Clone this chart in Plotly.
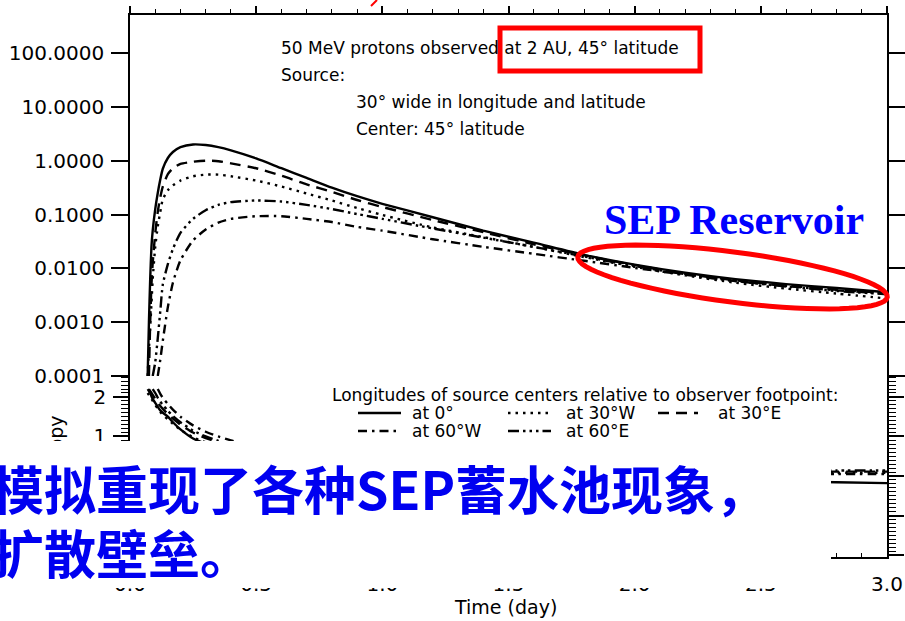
import math
import plotly.graph_objects as go

# ---------------- data ----------------
time_day = [0.070, 0.075, 0.080, 0.085, 0.090, 0.100, 0.110, 0.120, 0.130, 0.150,
            0.170, 0.200, 0.250, 0.300, 0.350, 0.400, 0.500, 0.600, 0.700, 0.800,
            0.900, 1.000, 1.200, 1.400, 1.600, 1.800, 2.000, 2.200, 2.400, 2.600,
            2.800, 3.000]

flux_0 = [1.0e-4, 1.0e-3, 6.3e-3, 2.5e-2, 5.0e-2, 0.126, 0.251, 0.447, 0.708, 1.12,
          1.45, 1.78, 2.0, 1.95, 1.78, 1.55, 1.10, 0.724, 0.479, 0.316,
          0.219, 0.158, 8.9e-2, 5.0e-2, 3.0e-2, 1.78e-2, 1.17e-2, 8.3e-3, 6.3e-3, 5.1e-3,
          4.3e-3, 3.6e-3]
flux_30W = [1.0e-4, 3.2e-4, 7.9e-4, 2.2e-3, 6.3e-3, 2.5e-2, 6.0e-2, 0.112, 0.191, 0.282,
            0.347, 0.427, 0.513, 0.550, 0.550, 0.513, 0.427, 0.331, 0.245, 0.182,
            0.132, 9.8e-2, 5.75e-2, 3.8e-2, 2.5e-2, 1.62e-2, 1.07e-2, 7.4e-3, 5.4e-3, 4.2e-3,
            3.4e-3, 2.75e-3]
flux_30E = [None, 1.0e-4, 1.0e-3, 5.0e-3, 1.26e-2, 4.47e-2, 0.112, 0.209, 0.331, 0.562,
            0.724, 0.871, 0.955, 1.0, 0.977, 0.891, 0.724, 0.525, 0.363, 0.263,
            0.186, 0.138, 7.9e-2, 4.7e-2, 2.8e-2, 1.74e-2, 1.15e-2, 7.9e-3, 6.0e-3, 4.8e-3,
            4.0e-3, 3.5e-3]
flux_60W = [None, None, None, None, None, None, 1.0e-4, 2.0e-4, 4.5e-4, 1.9e-3,
            5.4e-3, 1.41e-2, 3.31e-2, 5.25e-2, 7.08e-2, 8.3e-2, 9.3e-2, 9.3e-2, 8.3e-2, 7.24e-2,
            5.89e-2, 5.01e-2, 3.47e-2, 2.51e-2, 1.86e-2, 1.38e-2, 1.02e-2, 7.6e-3, 5.8e-3, 4.7e-3,
            3.9e-3, 3.4e-3]
flux_60E = [None, None, None, None, 1.0e-4, 1.8e-4, 5.0e-4, 1.6e-3, 5.0e-3, 1.2e-2,
            2.29e-2, 4.57e-2, 8.3e-2, 0.120, 0.151, 0.170, 0.182, 0.174, 0.151, 0.126,
            0.102, 8.3e-2, 5.5e-2, 3.72e-2, 2.5e-2, 1.66e-2, 1.10e-2, 7.8e-3, 5.8e-3, 4.6e-3,
            3.8e-3, 3.3e-3]

aniso_0 = [2.20, 2.15, 2.10, 2.02, 1.95, 1.85, 1.75, 1.66, 1.60, 1.50,
           1.36, 1.18, 0.95, 0.82, 0.72, 0.64, 0.52, 0.43, 0.36, 0.30,
           0.25, 0.21, 0.14, 0.08, 0.03, -0.02, -0.06, -0.09, -0.12, -0.14,
           -0.16, -0.18]
aniso_30W = [2.10, 2.05, 2.00, 1.95, 1.90, 1.80, 1.70, 1.62, 1.55, 1.43,
             1.32, 1.17, 0.98, 0.85, 0.75, 0.67, 0.55, 0.46, 0.39, 0.33,
             0.28, 0.24, 0.18, 0.14, 0.12, 0.10, 0.09, 0.09, 0.08, 0.08,
             0.08, 0.08]
aniso_30E = [None, 2.20, 2.15, 2.10, 2.05, 1.95, 1.85, 1.77, 1.70, 1.57,
             1.45, 1.30, 1.10, 0.96, 0.85, 0.76, 0.63, 0.53, 0.45, 0.39,
             0.34, 0.30, 0.24, 0.20, 0.17, 0.15, 0.14, 0.13, 0.12, 0.12,
             0.11, 0.11]
aniso_60W = [None, None, None, None, None, None, 2.20, 2.08, 1.98, 1.82,
             1.68, 1.50, 1.28, 1.12, 1.00, 0.90, 0.75, 0.64, 0.55, 0.47,
             0.41, 0.36, 0.28, 0.22, 0.17, 0.13, 0.10, 0.08, 0.07, 0.06,
             0.05, 0.05]
aniso_60E = [None, None, None, None, 2.20, 2.10, 1.98, 1.88, 1.80, 1.65,
             1.52, 1.36, 1.15, 1.00, 0.89, 0.80, 0.66, 0.56, 0.48, 0.42,
             0.37, 0.32, 0.26, 0.22, 0.19, 0.17, 0.16, 0.15, 0.15, 0.14,
             0.14, 0.14]

series_names = ["at 0°", "at 30°W", "at 30°E", "at 60°W", "at 60°E"]
flux_tick_vals = [1e-4, 1e-3, 1e-2, 1e-1, 1, 10, 100]
flux_tick_text = ["0.0001", "0.0010", "0.0100", "0.1000", "1.0000", "10.0000", "100.0000"]
aniso_tick_vals = [-2, -1, 0, 1, 2]
aniso_tick_text = ["", "", "", "1", "2"]          # lower labels are hidden by the slide text box
time_tick_vals = [0.0, 0.5, 1.0, 1.5, 2.0, 2.5, 3.0]
time_tick_text = ["0.0", "0.5", "1.0", "1.5", "2.0", "2.5", "3.0"]

# ---------------- layout helpers ----------------
W, H = 905, 621
L, R, T, B = 130, 887, 15, 557
MID = 376


def PX(x):
    return (x - L) / (R - L)


def PY(y):
    return (B - y) / (B - T)


DASHES = {
    "at 0°": "solid",
    "at 30°W": "2.5px,5px",
    "at 30°E": "11px,7px",
    "at 60°W": "9px,5px,2.5px,5px",
    "at 60°E": "11px,4px,2.5px,4px,2.5px,4px,2.5px,4px",
}

fig = go.Figure()
flux_all = [flux_0, flux_30W, flux_30E, flux_60W, flux_60E]
aniso_all = [aniso_0, aniso_30W, aniso_30E, aniso_60W, aniso_60E]
for name, fl, an in zip(series_names, flux_all, aniso_all):
    fig.add_trace(go.Scatter(x=time_day, y=fl, mode="lines", name=name,
                             line=dict(color="black", width=2.4, dash=DASHES[name], shape="spline", smoothing=0.6),
                             xaxis="x", yaxis="y", showlegend=False))
    fig.add_trace(go.Scatter(x=time_day, y=an, mode="lines", name=name,
                             line=dict(color="black", width=2.4, dash=DASHES[name], shape="spline", smoothing=0.6),
                             xaxis="x2", yaxis="y2", showlegend=False))

tick_font = dict(family="DejaVu Sans", size=20, color="black")
split = (B - MID) / (B - T)

fig.update_layout(
    width=W, height=H,
    margin=dict(l=L, r=W - R, t=T, b=H - B, autoexpand=False),
    paper_bgcolor="white", plot_bgcolor="white",
    showlegend=False,
    xaxis=dict(domain=[0, 1], anchor="y", side="top", range=[0, 3.0], automargin=False,
               tickvals=time_tick_vals, showticklabels=False, ticks="outside",
               ticklen=7, tickwidth=1.5, tickcolor="black",
               minor=dict(dtick=0.1, ticks="outside", ticklen=4, tickwidth=1.3, tickcolor="black"),
               showline=True, linecolor="black", linewidth=1.5, showgrid=False, zeroline=False),
    xaxis3=dict(overlaying="x", anchor="y", side="bottom", range=[0, 3.0], automargin=False,
                tickvals=time_tick_vals, showticklabels=False, ticks="inside",
                ticklen=7, tickwidth=1.5, tickcolor="black",
                minor=dict(dtick=0.1, ticks="inside", ticklen=4, tickwidth=1.3, tickcolor="black"),
                showline=True, linecolor="black", linewidth=1.5, showgrid=False, zeroline=False),
    xaxis2=dict(domain=[0, 1], anchor="y2", side="bottom", range=[0, 3.0], automargin=False,
                tickvals=time_tick_vals, ticktext=time_tick_text, ticks="inside",
                ticklen=7, tickwidth=1.5, tickcolor="black", tickfont=tick_font,
                ticklabelstandoff=8,
                minor=dict(dtick=0.1, ticks="inside", ticklen=4, tickwidth=1.3, tickcolor="black"),
                showline=True, linecolor="black", linewidth=1.5, showgrid=False, zeroline=False),
    yaxis=dict(domain=[split, 1], anchor="x", type="log", range=[-4, 2.706], automargin=False,
               tickvals=flux_tick_vals, ticktext=flux_tick_text, tickfont=tick_font,
               ticks="outside", ticklen=17, tickwidth=1.5, tickcolor="black",
               ticklabelstandoff=3,
               showline=True, linecolor="black", linewidth=1.5, mirror="ticks",
               showgrid=False, zeroline=False),
    yaxis2=dict(domain=[0, split], anchor="x2", range=[-2.05, 2.53], automargin=False,
                tickvals=aniso_tick_vals, ticktext=aniso_tick_text, tickfont=tick_font,
                ticks="outside", ticklen=15, tickwidth=1.5, tickcolor="black",
                ticklabelstandoff=3,
                minor=dict(dtick=0.1, ticks="outside", ticklen=7, tickwidth=1.2, tickcolor="black"),
                showline=True, linecolor="black", linewidth=1.5, mirror="ticks",
                showgrid=False, zeroline=False),
)

shapes = []
# red box around "at 2 AU, 45° latitude"
shapes.append(dict(type="rect", xref="paper", yref="paper", x0=PX(500), x1=PX(700),
                   y0=PY(71), y1=PY(28), line=dict(color="#FF0000", width=5), layer="above"))
# red tilted ellipse (SEP reservoir)
cx, cy, a, b, th = 732.5, 277.0, 156.0, 25.0, math.radians(7.4)
pts = []
for i in range(73):
    ph = 2 * math.pi * i / 72
    xx = cx + a * math.cos(ph) * math.cos(th) - b * math.sin(ph) * math.sin(th)
    yy = cy + a * math.cos(ph) * math.sin(th) + b * math.sin(ph) * math.cos(th)
    pts.append((PX(xx), PY(yy)))
path = "M " + " L ".join(f"{x:.5f},{y:.5f}" for x, y in pts) + " Z"
shapes.append(dict(type="path", xref="paper", yref="paper", path=path,
                   line=dict(color="#FF0000", width=5), layer="above"))
# red fragment at the very top
shapes.append(dict(type="line", xref="paper", yref="paper", x0=PX(371), y0=PY(6),
                   x1=PX(377), y1=PY(0), line=dict(color="#FF0000", width=2), layer="above"))
# legend line samples
leg = [("at 0°", 358, 401, 413), ("at 30°W", 508, 551, 413), ("at 30°E", 658, 698, 413),
       ("at 60°W", 358, 401, 431), ("at 60°E", 508, 551, 431)]
for name, xa, xb, yy in leg:
    shapes.append(dict(type="line", xref="paper", yref="paper", x0=PX(xa), x1=PX(xb),
                       y0=PY(yy), y1=PY(yy), line=dict(color="black", width=2.4, dash=DASHES[name]),
                       layer="above"))
# white cover (slide text box)
shapes.append(dict(type="rect", xref="paper", yref="paper", x0=PX(-5), x1=PX(831),
                   y0=PY(588), y1=PY(441), fillcolor="white", line=dict(width=0), layer="above"))
fig.update_layout(shapes=shapes)

txt = dict(family="DejaVu Sans", size=17, color="black")
ann = []


def add_text(text, x, y, xanchor="left", font=txt, **kw):
    ann.append(dict(text=text, x=PX(x), y=PY(y), xref="paper", yref="paper",
                    xanchor=xanchor, yanchor="middle", showarrow=False, font=font, **kw))


add_text("50 MeV protons observed at 2 AU, 45° latitude", 279, 48)
add_text("Source:", 279, 75)
add_text("30° wide in longitude and latitude", 354, 102)
add_text("Center: 45° latitude", 354, 129)
add_text("<b>SEP Reservoir</b>", 734, 220, xanchor="center",
         font=dict(family="Liberation Serif, Times New Roman, serif", size=42, color="#0000FF"))
add_text("Longitudes of source centers relative to observer footpoint:", 330, 395)
add_text("at 0°", 410, 413)
add_text("at 30°W", 564, 413)
add_text("at 30°E", 716, 413)
add_text("at 60°W", 410, 431)
add_text("at 60°E", 564, 431)
add_text("Anisotropy", 56, 466, xanchor="center",
         font=dict(family="DejaVu Sans", size=19, color="black"), textangle=-90)
# white cover for annotation layer
ann.append(dict(text=" ", x=PX(-5), y=PY(441), xref="paper", yref="paper",
                xanchor="left", yanchor="top", showarrow=False, width=836, height=147,
                bgcolor="white", borderpad=0, borderwidth=0))
cn_font = dict(family="Noto Sans CJK SC", size=52, color="#0000F0")
add_text("<b>模拟重现了各种SEP蓄水池现象，</b>", -10, 487, font=cn_font)
add_text("<b>扩散壁垒。</b>", -10, 551, font=cn_font)
add_text("Time (day)", 505, 607, xanchor="center",
         font=dict(family="DejaVu Sans", size=19, color="black"))
fig.update_layout(annotations=ann)

fig.write_html("out.html", config={"displayModeBar": False},
               post_script="document.body.style.margin='0px';")
